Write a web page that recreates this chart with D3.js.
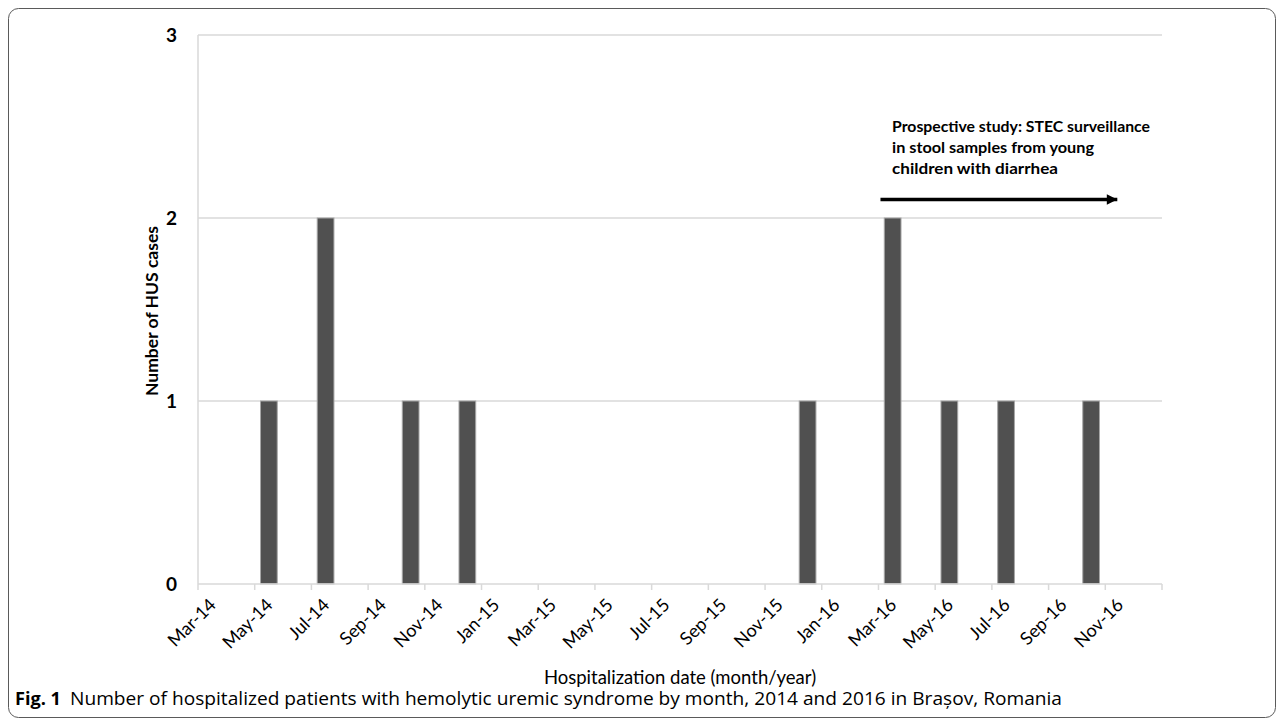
<!DOCTYPE html>
<html><head><meta charset="utf-8">
<script src="https://cdn.jsdelivr.net/npm/d3@7"></script>
<style>body{margin:0;background:#fff}svg{display:block}</style>
</head><body>
<svg id="c" width="1284" height="728"></svg>
<script>
const categories = ["Mar-14","Apr-14","May-14","Jun-14","Jul-14","Aug-14","Sep-14","Oct-14","Nov-14","Dec-14",
  "Jan-15","Feb-15","Mar-15","Apr-15","May-15","Jun-15","Jul-15","Aug-15","Sep-15","Oct-15","Nov-15","Dec-15",
  "Jan-16","Feb-16","Mar-16","Apr-16","May-16","Jun-16","Jul-16","Aug-16","Sep-16","Oct-16","Nov-16","Dec-16"];
const cases = [0,0,1,0,2,0,0,1,0,1, 0,0,0,0,0,0,0,0,0,0,0,1, 0,0,2,0,1,0,1,0,0,1,0,0];
const tickLabels = ["Mar-14","May-14","Jul-14","Sep-14","Nov-14","Jan-15","Mar-15","May-15","Jul-15","Sep-15","Nov-15",
  "Jan-16","Mar-16","May-16","Jul-16","Sep-16","Nov-16"];
const yTicks = [0,1,2,3];
const annotation = ["Prospective study: STEC surveillance","in stool samples from young","children with diarrhea"];
const annotationWidths = [258,202,166];
const arrowFrom = "Mar-16", arrowTo = "Nov-16";
const caption = "Number of hospitalized patients with hemolytic uremic syndrome by month, 2014 and 2016 in Brașov, Romania";

const svg = d3.select("#c");
const L = 198, R = 1162, T = 35, B = 584;
const font = "Lato, 'Open Sans', sans-serif";

svg.append("rect").attr("x",8.5).attr("y",8.5).attr("width",1267).attr("height",709)
  .attr("rx",10).attr("fill","none").attr("stroke","#5a5a5a").attr("stroke-width",1);

const x = d3.scaleBand().domain(categories).range([L,R]).paddingInner(0.41).paddingOuter(0.205);
const y = d3.scaleLinear().domain([0,3]).range([B,T]);
const boundary = c => x(c) - (x.step()-x.bandwidth())/2;

// gridlines
svg.append("g").selectAll("line").data(yTicks.filter(d=>d>0)).join("line")
  .attr("x1",L).attr("x2",R).attr("y1",d=>y(d)).attr("y2",d=>y(d))
  .attr("stroke","#d9d9d9").attr("stroke-width",1.5);

// y axis line
svg.append("line").attr("x1",L).attr("x2",L).attr("y1",y(3)).attr("y2",B)
  .attr("stroke","#d9d9d9").attr("stroke-width",1.5);

// y labels
const yAxis = d3.axisLeft(y).tickValues(yTicks).tickSize(0).tickPadding(21).tickFormat(d3.format("d"));
const gy = svg.append("g").attr("transform",`translate(${L},0)`).call(yAxis);
gy.select(".domain").remove();
gy.selectAll("text").attr("font-family",font).attr("font-size",19).attr("font-weight","bold").attr("fill","#000");

// bars
svg.append("g").selectAll("rect").data(categories.map((c,i)=>({c,v:cases[i]})).filter(d=>d.v>0)).join("rect")
  .attr("x",d=>x(d.c)).attr("width",x.bandwidth())
  .attr("y",d=>y(d.v)).attr("height",d=>B-y(d.v))
  .attr("fill","#505050").attr("stroke","#a6a6a6").attr("stroke-width",1);

// x axis line
svg.append("line").attr("x1",L).attr("x2",R).attr("y1",B).attr("y2",B)
  .attr("stroke","#d9d9d9").attr("stroke-width",1.5);

// x ticks at boundaries
const tickPos = tickLabels.map(boundary).concat([R]);
svg.append("g").selectAll("line").data(tickPos).join("line")
  .attr("x1",d=>d).attr("x2",d=>d).attr("y1",B).attr("y2",B+6)
  .attr("stroke","#d9d9d9").attr("stroke-width",1.5);

// x labels rotated
svg.append("g").selectAll("text").data(tickLabels).join("text")
  .attr("transform",d=>`translate(${x(d)+x.bandwidth()/2+5},${B+22}) rotate(-45)`)
  .attr("text-anchor","end").attr("font-family",font).attr("font-size",18).attr("fill","#000")
  .text(d=>d);

// axis titles
svg.append("text").attr("x",680).attr("y",684).attr("text-anchor","middle")
  .attr("font-family",font).attr("font-size",18.5).attr("fill","#000").text("Hospitalization date (month/year)");
svg.append("text").attr("transform","translate(158,311) rotate(-90)").attr("text-anchor","middle")
  .attr("font-family",font).attr("font-size",17.5).attr("font-weight","bold").attr("fill","#000").text("Number of HUS cases");

// annotation
svg.append("g").selectAll("text").data(annotation).join("text")
  .attr("x",892).attr("y",(d,i)=>132+i*21)
  .attr("textLength",(d,i)=>annotationWidths[i]).attr("lengthAdjust","spacingAndGlyphs")
  .attr("font-family",font).attr("font-size",16).attr("font-weight","bold").attr("fill","#000").text(d=>d);

// arrow
const defs = svg.append("defs");
defs.append("marker").attr("id","ah").attr("viewBox","0 0 10 10").attr("refX",10).attr("refY",5)
  .attr("markerWidth",3.6).attr("markerHeight",3).attr("markerUnits","strokeWidth").attr("orient","auto")
  .append("path").attr("d","M0,0 L10,5 L0,10 Z").attr("fill","#000");
svg.append("line").attr("x1",boundary(arrowFrom)+2).attr("x2",boundary(arrowTo)+12)
  .attr("y1",199.5).attr("y2",199.5).attr("stroke","#000").attr("stroke-width",3.5).attr("marker-end","url(#ah)");

// caption
const capFont = "'Open Sans',sans-serif";
svg.append("text").attr("x",15).attr("y",705).attr("font-family",capFont).attr("font-size",18)
  .attr("font-weight","bold").attr("textLength",46).attr("lengthAdjust","spacingAndGlyphs").attr("fill","#000").text("Fig. 1");
svg.append("text").attr("x",70).attr("y",705).attr("font-family",capFont).attr("font-size",18)
  .attr("textLength",992).attr("lengthAdjust","spacingAndGlyphs").attr("fill","#000").text(caption);
</script>
</body></html>
